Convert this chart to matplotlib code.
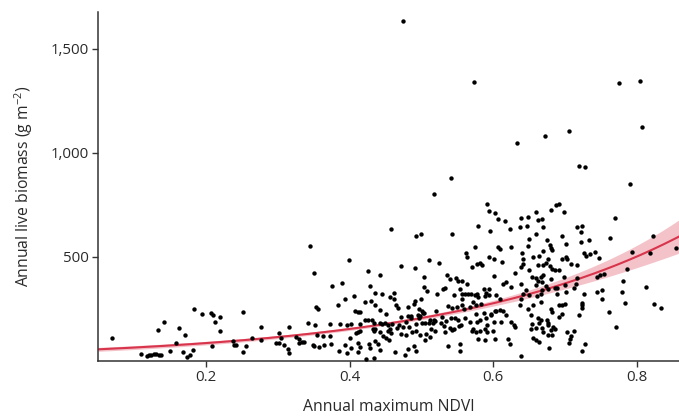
import matplotlib
matplotlib.use('Agg')
import matplotlib.pyplot as plt
import numpy as np

plt.rcParams['font.family'] = ['Open Sans', 'DejaVu Sans']
plt.rcParams['mathtext.default'] = 'regular'

# ---- data (NDVI, biomass g m-2) ----
pts_low = [(0.069,107),(0.110,31),(0.118,23),(0.121,27),(0.124,28),(0.128,31),(0.131,29),(0.135,28),
           (0.138,27),(0.133,145),(0.141,184),(0.150,44),(0.158,86),(0.162,157),(0.168,43),(0.171,123),
           (0.174,17),(0.178,25),(0.182,51),(0.183,250),(0.195,222),(0.207,227),(0.210,219),(0.212,184),
           (0.219,210),(0.219,141),(0.209,68),(0.237,94),(0.239,75),(0.242,73),(0.252,234),(0.252,43),
           (0.256,70),(0.264,110),(0.276,160),(0.277,97),(0.297,83),(0.302,83),(0.302,131),(0.305,107),
           (0.308,75),(0.314,54),(0.315,35),(0.315,160),(0.326,112),(0.329,105),(0.330,86),(0.333,89),
           (0.336,89),(0.342,181),(0.345,551),(0.350,423),(0.352,169),(0.353,259),(0.356,248),(0.354,121),
           (0.349,76),(0.350,68),(0.358,67),(0.363,118),(0.365,75),(0.373,120),(0.373,177),(0.374,80),
           (0.375,359)]

pts_high = [(0.475,1636),(0.573,1343),(0.775,1336),(0.805,1346),(0.807,1126),(0.633,1046),(0.672,1083),
            (0.705,1107),(0.541,877),(0.517,800),(0.458,635),(0.492,601),(0.500,607),(0.542,607)]

pts_mid_a = [(0.399,484),(0.426,431),(0.442,413),(0.471,455),(0.491,445),(0.510,482),(0.525,469),(0.536,413),
             (0.540,394),(0.389,372),(0.428,359),(0.503,400),(0.504,354),(0.508,333),(0.530,346),(0.533,349),
             (0.522,322),(0.545,314),(0.384,266),(0.393,294),(0.406,312),(0.436,323),(0.445,320),(0.456,307),
             (0.462,327),(0.462,298),(0.422,283),(0.430,288),(0.435,266),(0.464,269),(0.489,274),(0.491,285),
             (0.500,298),(0.482,256),(0.497,246),(0.501,238),(0.504,227),(0.521,240),(0.537,262),(0.543,253),
             (0.408,237),(0.412,232),(0.415,233),(0.442,245),(0.450,222),(0.467,251),(0.471,208),(0.481,214),
             (0.485,213),(0.486,205),(0.495,217),(0.497,205),(0.498,213),(0.502,230),(0.512,193),(0.517,195),
             (0.519,190),(0.528,208),(0.534,192),(0.541,203),(0.387,177),(0.397,169),(0.402,176),(0.414,177),
             (0.422,193),(0.425,197),(0.431,197),(0.434,181),(0.443,181),(0.445,176),(0.449,181),(0.454,169),
             (0.459,177),(0.456,153),(0.466,156),(0.469,173),(0.474,161),(0.479,185),(0.483,161),(0.492,174),
             (0.501,179),(0.505,182),(0.510,182),(0.516,181),(0.514,153),(0.527,181),(0.531,166),(0.540,155),
             (0.543,147),(0.409,132),(0.412,136),(0.415,140),(0.432,153),(0.434,142),(0.436,150),(0.442,137),
             (0.453,142),(0.457,132),(0.446,118),(0.450,108),(0.455,97),(0.435,96),(0.472,129),(0.478,124),
             (0.487,137),(0.493,140),(0.498,121),(0.506,129),(0.505,100),(0.512,111),(0.519,140),(0.533,137),
             (0.545,153),(0.400,107),(0.393,75),(0.385,44),(0.396,37),(0.402,60),(0.411,86),(0.412,41),
             (0.415,63),(0.427,81),(0.428,59),(0.440,79),(0.443,49),(0.463,39),(0.477,28),(0.482,54),
             (0.489,70),(0.492,47),(0.537,70),(0.423,9),(0.434,14)]

pts_mid_b = [(0.591,754),(0.594,721),(0.602,709),(0.607,681),(0.617,673),(0.579,646),(0.596,622),(0.623,635),
             (0.637,641),(0.639,688),(0.649,691),(0.660,715),(0.662,676),(0.668,680),(0.669,643),(0.647,648),
             (0.680,726),(0.687,749),(0.691,755),(0.699,715),(0.650,583),(0.659,607),(0.649,553),(0.675,579),
             (0.679,558),(0.680,540),(0.682,530),(0.670,527),(0.696,599),(0.702,561),(0.574,548),(0.607,548),
             (0.609,538),(0.625,548),(0.562,516),(0.640,519)]

pts_right = [(0.720,937),(0.728,930),(0.790,850),(0.770,688),(0.717,641),(0.723,646),(0.722,620),(0.762,591),
             (0.733,582),(0.722,569),(0.822,601),(0.854,540),(0.742,524),(0.735,514),(0.726,516),(0.793,524),
             (0.818,516),(0.702,498),(0.703,487),(0.709,463),(0.717,458),(0.729,502),(0.748,494),(0.786,439),
             (0.717,397),(0.716,367),(0.713,351),(0.744,402),(0.749,413),(0.755,415),(0.781,384),(0.813,354),
             (0.702,330),(0.726,320),(0.745,328),(0.752,339),(0.752,298),(0.779,330),(0.784,277),(0.824,272),
             (0.834,254),(0.700,270),(0.723,278),(0.724,266),(0.724,253),(0.719,217),(0.761,233),(0.771,161),
             (0.703,137),(0.712,144),(0.708,118),(0.707,105),(0.705,86),(0.728,78),(0.723,47)]

pts_dense = [(0.563,498),(0.594,498),(0.601,487),(0.612,474),(0.642,490),(0.656,498),(0.664,503),(0.677,490),
             (0.696,490),(0.571,450),(0.578,466),(0.581,471),(0.584,461),(0.631,421),(0.639,450),(0.641,466),
             (0.650,434),(0.663,458),(0.670,458),(0.674,471),(0.679,455),(0.682,442),(0.686,434),(0.692,434),
             (0.548,397),(0.551,384),(0.556,381),(0.563,370),(0.601,405),(0.613,370),(0.618,378),(0.625,354),
             (0.639,370),(0.654,402),(0.660,397),(0.662,381),(0.666,402),(0.668,378),(0.670,410),(0.674,359),
             (0.680,394),(0.686,349),(0.689,349),(0.698,402),(0.554,346),(0.557,322),(0.561,322),(0.565,322),
             (0.569,322),(0.574,314),(0.577,322),(0.579,306),(0.587,343),(0.588,311),(0.590,327),(0.594,343),
             (0.594,317),(0.604,317),(0.609,298),(0.639,298),(0.642,320),(0.646,338),(0.650,314),(0.659,362),
             (0.661,311),(0.666,322),(0.668,338),(0.677,346),(0.689,322),(0.700,362),(0.550,258),(0.556,294),
             (0.557,266),(0.559,250),(0.568,258),(0.572,282),(0.576,266),(0.583,274),(0.587,230),(0.597,225),
             (0.602,237),(0.604,237),(0.609,242),(0.613,237),(0.618,217),(0.638,266),(0.649,250),(0.656,266),
             (0.667,282),(0.680,250),(0.682,233),(0.691,266),(0.696,269),(0.547,205),(0.551,193),(0.555,173),
             (0.561,206),(0.568,185),(0.576,225),(0.577,185),(0.582,193),(0.590,205),(0.592,169),(0.597,217),
             (0.601,185),(0.611,185),(0.625,185),(0.629,169),(0.653,221),(0.654,177),(0.663,205),(0.664,182),
             (0.666,193),(0.675,193),(0.677,182),(0.681,145),(0.692,209),(0.696,225),(0.553,166),(0.570,140),
             (0.572,153),(0.576,137),(0.581,140),(0.588,153),(0.591,137),(0.600,140),(0.630,161),(0.652,153),
             (0.660,156),(0.668,156),(0.669,137),(0.676,169),(0.683,161),(0.686,153),(0.579,102),(0.589,97),
             (0.603,102),(0.620,102),(0.624,78),(0.655,108),(0.659,100),(0.664,89),(0.676,124),(0.682,121),
             (0.554,81),(0.554,47),(0.678,60),(0.639,20)]

# fitted curve and confidence band
curve_x = [0.05, 0.20, 0.38, 0.55, 0.693, 0.786, 0.859]
curve_y = [54, 83, 145, 235, 370, 468, 604]
band_lo = [44, 76, 137, 222, 347, 420, 524]
band_hi = [64, 90, 153, 248, 396, 516, 684]

x_ticks = [0.2, 0.4, 0.6, 0.8]
x_tick_labels = ['0.2', '0.4', '0.6', '0.8']
y_ticks = [500, 1000, 1500]
y_tick_labels = ['500', '1,000', '1,500']

# ---- figure ----
fig = plt.figure(figsize=(6.79, 4.19), dpi=100)
ax = fig.add_axes([0.1448, 0.1396, 0.8552, 0.8318])

xs = np.linspace(curve_x[0], curve_x[-1], 300)
def smooth(vals):
    c = np.polyfit(curve_x, np.log(vals), 2)
    return np.exp(np.polyval(c, xs))

ax.fill_between(xs, smooth(band_lo), smooth(band_hi), color='#f4c3c9', lw=0, zorder=1)
ax.plot(xs, smooth(curve_y), color='#d8344c', lw=1.5, zorder=2)

all_pts = np.array(pts_low + pts_high + pts_mid_a + pts_mid_b + pts_right + pts_dense)
ax.scatter(all_pts[:, 0], all_pts[:, 1], s=10, color='black', linewidths=0, zorder=3)

ax.set_xlim(0.050, 0.8588)
ax.set_ylim(0, 1678)
ax.set_xticks(x_ticks)
ax.set_xticklabels(x_tick_labels)
ax.set_yticks(y_ticks)
ax.set_yticklabels(y_tick_labels)

for s in ['top', 'right']:
    ax.spines[s].set_visible(False)
for s in ['left', 'bottom']:
    ax.spines[s].set_color('#333333')
    ax.spines[s].set_linewidth(1.1)
ax.tick_params(direction='out', length=4, width=1, color='#333333',
               labelsize=10.8, labelcolor='#2a2a2a', pad=3)

ax.set_xlabel('Annual maximum NDVI', fontsize=11.3, color='#2a2a2a', labelpad=10)
ax.set_ylabel('Annual live biomass (g m$^{-2}$)', fontsize=11.3, color='#2a2a2a', labelpad=11)

fig.savefig('out.png', dpi=100)
